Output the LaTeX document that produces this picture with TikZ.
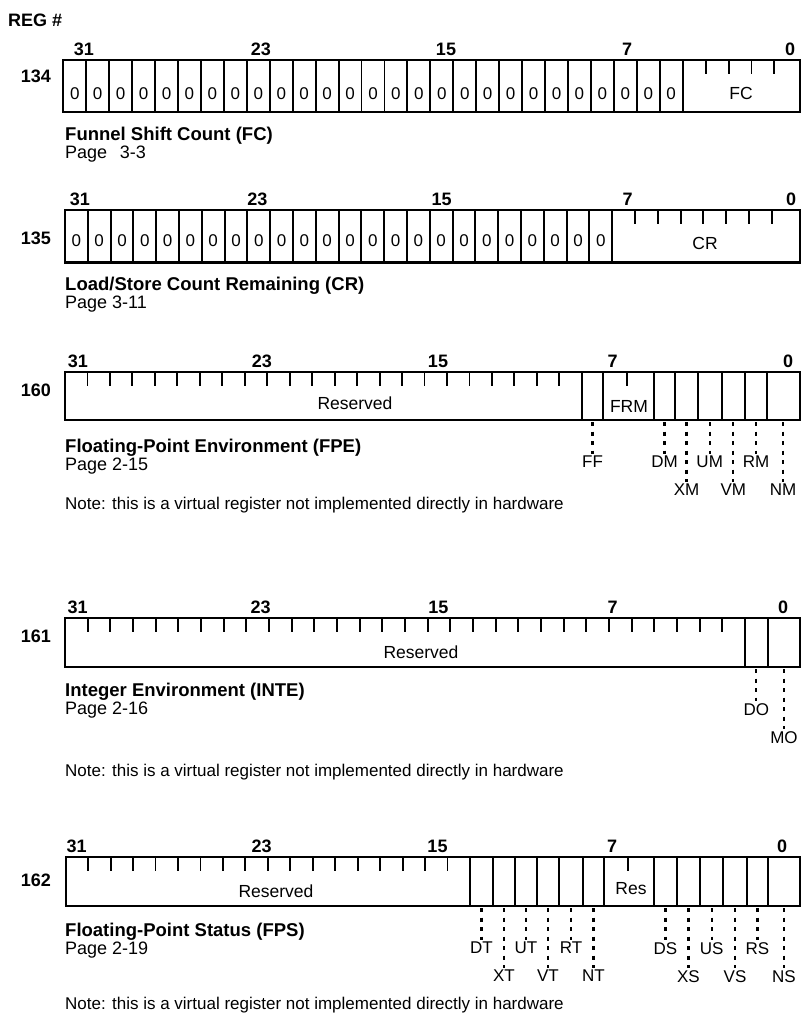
\documentclass[tikz,border=0pt]{standalone}
\usepackage{fontspec}
\setmainfont{Liberation Sans}
\newcommand\fsBit{\fontsize{18bp}{20bp}\selectfont\bfseries}
\newcommand\fsReg{\fontsize{18bp}{20bp}\selectfont\bfseries}
\newcommand\fsZero{\fontsize{17bp}{18bp}\selectfont}
\newcommand\fsField{\fontsize{17.5bp}{20bp}\selectfont}
\newcommand\fsTitle{\fontsize{18.5bp}{20bp}\selectfont\bfseries}
\newcommand\fsPage{\fontsize{18bp}{20bp}\selectfont}
\newcommand\fsNote{\fontsize{17bp}{18bp}\selectfont}
\newcommand\fsLab{\fontsize{17bp}{19bp}\selectfont}
% upper / lower leader labels: name, x, box bottom, text
\newcommand\uplab[4]{%
  \coordinate (#1-c) at ({#2},{#3+2});
  \node[rlab] (#1) at ({#2},{#3+34}) {#4};
  \draw[rleader] (#1-c) -- (#1.north);}
\newcommand\lolab[4]{%
  \coordinate (#1-c) at ({#2},{#3+2});
  \node[rlab] (#1) at ({#2},{#3+62}) {#4};
  \draw[rleader] (#1-c) -- (#1.north);}
\begin{document}
\begin{tikzpicture}[x=1bp,y=-1bp,
  rframe/.style={line width=2.3bp},
  rdiv/.style={line width=1.9bp},
  rtick/.style={line width=1.9bp},
  rleader/.style={line width=2.3bp, dash pattern=on 4bp off 5.5bp},
  rbit/.style={font=\fsBit, anchor=base, inner sep=0},
  rreg/.style={font=\fsReg, anchor=east, inner sep=0},
  rzero/.style={font=\fsZero, inner sep=0},
  rfield/.style={font=\fsField, inner sep=0},
  rtitle/.style={font=\fsTitle, anchor=base west, inner sep=0},
  rpage/.style={font=\fsPage, anchor=base west, inner sep=0},
  rnote/.style={font=\fsNote, anchor=base west, inner sep=0},
  rlab/.style={font=\fsLab, anchor=north, inner sep=2bp}]
\useasboundingbox (0,0) rectangle (809,1026);

\node[rreg, anchor=base west] (hdr) at (8,26) {REG \#};

% ---------------- 134 ----------------
\node[rreg] (r134) at (51,76) {134};
\foreach \t/\x in {31/84,23/261,15/446,7/627,0/790}
  \node[rbit] (b134-\t) at (\x,55) {\t};
\draw[rframe] (63.3,60) rectangle (800,112);
\foreach \n in {1,...,27} \draw[rdiv] ({63.3+\n*22.94},60) -- ++(0,52);
\foreach \n in {0,...,26} \node[rzero] (z134-\n) at ({63.3+(\n+0.5)*22.94},94) {0};
\foreach \n in {28,...,31} \draw[rtick] ({63.3+\n*22.94},60) -- ++(0,14);
\node[rfield] (f134) at (741,93) {FC};
\node[rtitle] (t134) at (65,140) {Funnel Shift Count (FC)};
\node[rpage] (p134) at (65,158) {Page\hspace{0.7em}3-3};

% ---------------- 135 ----------------
\node[rreg] (r135) at (51,238) {135};
\foreach \t/\x in {31/80,23/257.5,15/441.7,7/627.5,0/791}
  \node[rbit] (b135-\t) at (\x,205) {\t};
\draw[rframe] (65,210) rectangle (800,262.5);
\foreach \n in {1,...,24} \draw[rdiv] ({65+\n*22.8},210) -- ++(0,52.5);
\foreach \n in {0,...,23} \node[rzero] (z135-\n) at ({65+(\n+0.5)*22.8},241) {0};
\foreach \n in {25,...,31} \draw[rtick] ({65+\n*22.8},210) -- ++(0,14);
\node[rfield] (f135) at (705,243.5) {CR};
\node[rtitle] (t135) at (65,290) {Load/Store Count Remaining (CR)};
\node[rpage] (p135) at (65,308) {Page 3-11};

% ---------------- 160 ----------------
\node[rreg] (r160) at (51,390) {160};
\foreach \t/\x in {31/78,23/262,15/438,7/612.7,0/788}
  \node[rbit] (b160-\t) at (\x,367) {\t};
\draw[rframe] (65,372) rectangle (800,420);
\foreach \n in {1,...,22} \draw[rtick] ({65+\n*22.47},372) -- ++(0,14);
\foreach \x in {581.7,603.3,654,675,697.7,721.7,745,766.7} \draw[rdiv] (\x,372) -- ++(0,48);
\draw[rtick] (627.3,372) -- ++(0,14);
\node[rfield] (f160) at (355,403) {Reserved};
\node[rfield] (frm) at (629,406) {FRM};
\uplab{ff}{592.5}{420}{FF}
\uplab{dm}{664.5}{420}{DM}
\lolab{xm}{686.5}{420}{XM}
\uplab{um}{709.7}{420}{UM}
\lolab{vm}{733.3}{420}{VM}
\uplab{rm}{756}{420}{RM}
\lolab{nm}{783}{420}{NM}
\node[rtitle] (t160) at (65,452) {Floating-Point Environment (FPE)};
\node[rpage] (p160) at (65,470) {Page 2-15};
\node[rnote] (n160) at (65,509) {Note: this is a virtual register not implemented directly in hardware};

% ---------------- 161 ----------------
\node[rreg] (r161) at (51,636) {161};
\foreach \t/\x in {31/77.7,23/260.7,15/438.4,7/612.7,0/783}
  \node[rbit] (b161-\t) at (\x,613) {\t};
\draw[rframe] (65,618) rectangle (800,667);
\foreach \n in {1,...,29} \draw[rtick] ({65+\n*22.67},618) -- ++(0,14);
\foreach \x in {745,767.7} \draw[rdiv] (\x,618) -- ++(0,49);
\node[rfield] (f161) at (421,652) {Reserved};
\uplab{do}{756.3}{667}{DO}
\lolab{mo}{784}{667}{MO}
\node[rtitle] (t161) at (65,696) {Integer Environment (INTE)};
\node[rpage] (p161) at (65,714) {Page 2-16};
\node[rnote] (n161) at (65,776) {Note: this is a virtual register not implemented directly in hardware};

% ---------------- 162 ----------------
\node[rreg] (r162) at (51,880) {162};
\foreach \t/\x in {31/76.7,23/261.7,15/437.5,7/612,0/782}
  \node[rbit] (b162-\t) at (\x,852) {\t};
\draw[rframe] (65.7,857) rectangle (800,906);
\foreach \n in {1,...,17} \draw[rtick] ({65.7+\n*22.46},857) -- ++(0,14);
\foreach \x in {470,492.7,515,536.7,559.3,582.7,604,654,676.7,700,723.3,746.7,768.3}
  \draw[rdiv] (\x,857) -- ++(0,49);
\draw[rtick] (628.3,857) -- ++(0,14);
\node[rfield] (f162) at (276,891) {Reserved};
\node[rfield] (res162) at (631,888.5) {Res};
\uplab{dt}{481.4}{906}{DT}
\lolab{xt}{503.9}{906}{XT}
\uplab{ut}{525.9}{906}{UT}
\lolab{vt}{548}{906}{VT}
\uplab{rt}{571}{906}{RT}
\lolab{nt}{593.4}{906}{NT}
\uplab{ds}{665.4}{906}{DS}
\lolab{xs}{688.4}{906}{XS}
\uplab{us}{711.7}{906}{US}
\lolab{vs}{735}{906}{VS}
\uplab{rs}{757.5}{906}{RS}
\lolab{ns}{784}{906}{NS}
\node[rtitle] (t162) at (65,936) {Floating-Point Status (FPS)};
\node[rpage] (p162) at (65,954) {Page 2-19};
\node[rnote] (n162) at (65,1009) {Note: this is a virtual register not implemented directly in hardware};
\end{tikzpicture}
\end{document}
